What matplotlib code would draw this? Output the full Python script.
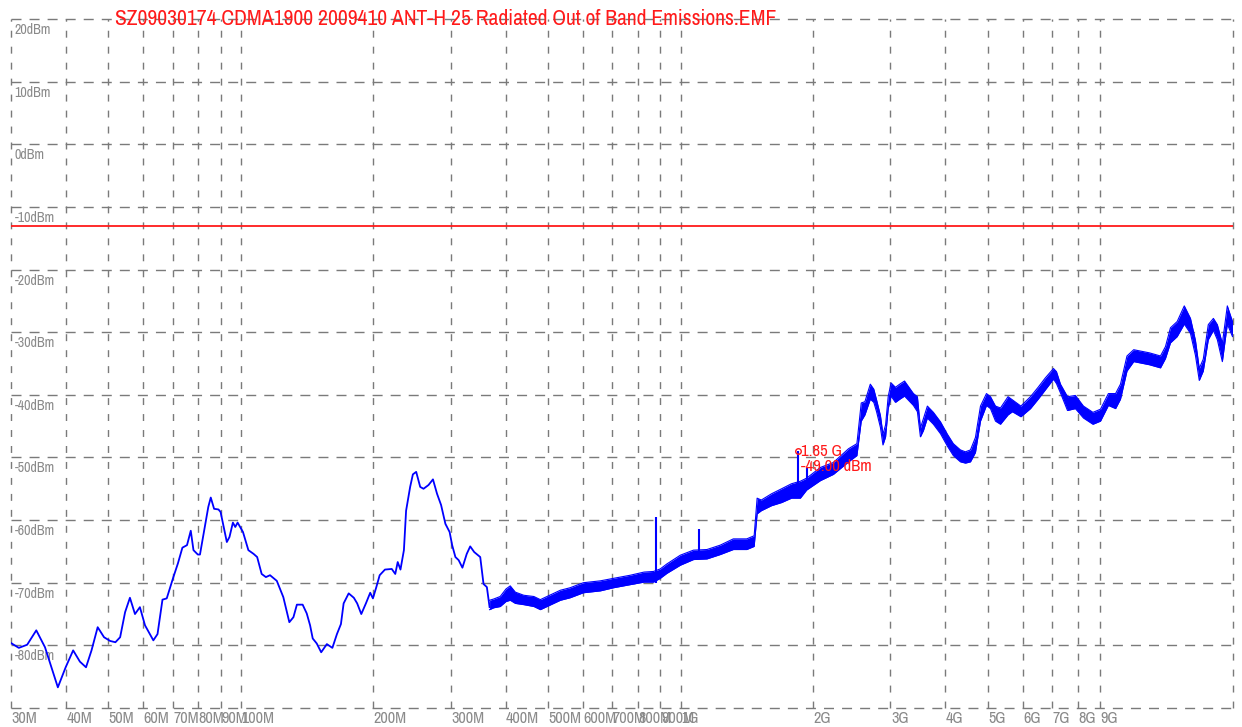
import os
import matplotlib
matplotlib.use("Agg")
import matplotlib.pyplot as plt
from matplotlib import font_manager
from matplotlib.font_manager import FontProperties
from matplotlib.transforms import offset_copy, blended_transform_factory

# ---------------------------------------------------------------- data
title = "SZ09030174 CDMA1900 2009410 ANT-H 25 Radiated Out of Band Emissions.EMF"

# low band sweep (MHz, dBm) - smooth part of the trace
freq_lo = [30.0, 31.3, 32.7, 34.3, 35.9, 38.4, 40.0, 41.6, 43.1, 44.5, 45.8, 47.3,
           48.9, 50.5, 51.9, 53.2, 54.6, 56.0, 57.5, 59.0, 60.6, 63.3, 64.7, 66.4,
           67.9, 70.3, 72.0, 73.7, 75.5, 77.0, 78.1, 79.9, 80.8, 84.4, 85.5, 87.0,
           89.0, 90.0, 93.0, 94.3, 96.0, 97.2, 98.4, 101.2, 104.1, 107.0, 109.0,
           111.6, 114.1, 116.6, 120.8, 125.0, 129.0, 131.8, 134.2, 138.3, 141.3,
           143.8, 145.8, 148.9, 152.4, 157.0, 161.6, 165.5, 169.0, 171.4, 176.0,
           180.8, 184.0, 188.0, 192.6, 197.0, 199.8, 203.4, 207.0, 212.8, 220.5,
           224.6, 227.5, 230.8, 235.0, 237.7, 242.8, 246.3, 250.6, 255.9, 260.4,
           267.3, 273.6, 279.5, 285.5, 292.0, 298.5, 302.5, 307.7, 313.0, 319.2,
           326.5, 332.5, 339.5, 350.4, 356.5, 362.8, 368.0]
level_lo = [-79.6, -80.4, -79.9, -77.6, -80.3, -86.7, -83.5, -80.8, -82.6, -83.5, -80.8, -77.1,
            -78.7, -79.3, -79.5, -78.7, -74.7, -72.4, -75.0, -73.9, -76.8, -79.2, -78.2, -72.7,
            -72.5, -69.1, -66.9, -64.4, -64.0, -61.7, -64.8, -65.5, -65.5, -57.9, -56.4, -58.2,
            -58.3, -58.7, -63.5, -62.7, -60.4, -61.1, -60.4, -61.9, -64.8, -65.4, -65.9,
            -68.6, -69.1, -68.8, -69.7, -72.3, -76.3, -75.5, -73.5, -73.5, -74.9,
            -76.8, -78.9, -79.7, -81.1, -79.8, -80.4, -78.2, -76.6, -73.3, -71.7,
            -72.4, -73.3, -75.0, -73.3, -71.6, -72.5, -70.7, -68.8, -67.9, -67.8,
            -68.6, -66.7, -67.9, -64.8, -58.5, -54.7, -52.7, -52.3, -54.7, -55.0,
            -54.4, -53.5, -55.8, -57.6, -60.6, -61.9, -64.0, -65.9, -66.4, -67.6,
            -65.4, -64.2, -65.1, -65.9, -70.2, -70.7, -73.9]

# high band sweep (MHz) with the min / max of the noise floor (dBm)
freq_hi = [368, 376, 389, 401, 410, 421, 440, 464, 480, 497, 533, 561, 601, 657, 704,
           769, 826, 868, 899, 931, 999, 1070, 1148, 1231, 1318, 1414, 1470, 1493,
           1526, 1610, 1697, 1787, 1872, 1935, 2079, 2226, 2410, 2517, 2575, 2625,
           2700, 2750, 2790, 2847, 2885, 2925, 2965, 3010, 3080, 3150, 3230, 3384,
           3455, 3510, 3566, 3640, 3757, 3898, 4043, 4170, 4328, 4442, 4561, 4682,
           4731, 4807, 4960, 5065, 5200, 5337, 5553, 5680, 5939, 6245, 6500, 6750,
           7044, 7155, 7307, 7580, 7900, 8240, 8660, 9009, 9390, 9750, 10003, 10350,
           10720, 11640, 12333, 12660, 12996, 13460, 13970, 14430, 14810, 15110,
           15430, 15840, 16270, 16610, 17050, 17500, 17980]
floor_min = [-74.3, -74.0, -73.8, -73.0, -72.8, -73.3, -73.5, -73.8, -74.3, -73.8, -72.8,
             -72.4, -71.6, -71.3, -70.8, -70.3, -69.9, -69.9, -69.3, -68.5, -67.2, -66.3,
             -66.2, -65.5, -64.7, -64.7, -64.2, -59.0, -58.5, -57.7, -57.2, -56.5, -56.5,
             -55.2, -53.7, -52.7, -50.7, -49.7, -44.2, -43.2, -40.7, -41.2, -42.7, -45.2,
             -48.0, -46.7, -42.2, -40.2, -41.2, -40.7, -40.2, -41.7, -42.7, -46.7, -45.7,
             -43.7, -44.7, -46.2, -48.2, -49.7, -50.7, -50.9, -50.7, -49.2, -47.2, -44.2,
             -41.7, -42.2, -44.2, -44.7, -43.2, -42.7, -43.5, -42.2, -40.7, -39.2, -37.5,
             -38.2, -39.7, -42.5, -42.2, -43.7, -44.7, -44.2, -41.7, -42.2, -40.7, -36.2,
             -34.7, -35.2, -35.7, -34.2, -31.7, -30.7, -28.7, -30.2, -33.7, -37.7, -36.2,
             -31.2, -29.7, -31.2, -34.7, -28.7, -30.7]
floor_max = [-72.8, -72.6, -72.2, -71.0, -70.5, -71.5, -72.0, -72.2, -72.7, -72.2, -71.2,
             -70.8, -70.0, -69.7, -69.3, -68.8, -68.3, -68.2, -67.8, -67.0, -65.6, -64.8,
             -64.7, -64.0, -63.0, -63.0, -62.5, -56.5, -56.8, -55.8, -55.0, -54.2, -53.8,
             -53.3, -51.6, -50.8, -48.6, -47.8, -41.3, -41.1, -38.3, -39.1, -40.8, -43.3,
             -46.3, -44.8, -40.3, -38.1, -38.8, -38.3, -37.8, -39.8, -40.3, -45.3, -43.8,
             -41.8, -42.8, -44.3, -46.3, -47.8, -48.8, -49.1, -48.8, -46.8, -44.8, -41.8,
             -39.8, -40.3, -41.8, -42.1, -40.3, -40.8, -41.8, -40.3, -38.8, -37.3, -35.8,
             -36.3, -38.3, -40.3, -40.1, -41.8, -42.8, -42.3, -39.8, -39.8, -38.3, -33.8,
             -32.8, -33.3, -33.8, -32.3, -29.3, -28.3, -25.8, -27.8, -31.3, -35.8, -34.3,
             -28.8, -27.8, -28.8, -31.8, -25.8, -28.3]

# narrow spurious lines (MHz, floor dBm, peak dBm)
spur_freq = [880, 1104, 1850, 1940]
spur_base = [-70.0, -65.0, -55.0, -55.0]
spur_peak = [-59.5, -61.4, -49.0, -51.7]

# marker
marker_freq = 1850
marker_level = -49.0

# limit line
limit_level = -13.0

# axis grid
x_grid = [30, 40, 50, 60, 70, 80, 90, 100, 200, 300, 400, 500, 600, 700, 800, 900,
          1000, 2000, 3000, 4000, 5000, 6000, 7000, 8000, 9000, 18000]
x_labels = ["30M", "40M", "50M", "60M", "70M", "80M", "90M", "100M", "200M", "300M",
            "400M", "500M", "600M", "700M", "800M", "900M", "1G", "2G", "3G", "4G",
            "5G", "6G", "7G", "8G", "9G", ""]
y_grid = [20, 10, 0, -10, -20, -30, -40, -50, -60, -70, -80, -90]
y_labels = ["20dBm", "10dBm", "0dBm", "-10dBm", "-20dBm", "-30dBm", "-40dBm",
            "-50dBm", "-60dBm", "-70dBm", "-80dBm", ""]


# ---------------------------------------------------------------- fonts
def narrow_font():
    """Return a narrow / condensed regular sans face if one is installed."""
    bad = ("bold", "italic", "oblique", "light", "thin", "black", "medium",
           "semi", "mono", "serif", "extra")
    found = []
    for f in font_manager.fontManager.ttflist:
        key = (f.name + " " + os.path.basename(f.fname)).lower()
        if any(b in key for b in bad):
            continue
        if "narrow" in key:
            found.append((0, f.fname))
        elif "condensed" in key or str(f.stretch) in ("condensed", "semi-condensed"):
            found.append((1, f.fname))
    if found:
        found.sort()
        return FontProperties(fname=found[0][1])
    return FontProperties(family=["Liberation Sans", "DejaVu Sans"])


FP = narrow_font()
plt.rcParams["lines.scale_dashes"] = False

GRID = "#7a7a7a"
LABEL = "#8a8a8a"
TRACE = "#0000ff"
RED = "#ff1a1a"

fig = plt.figure(figsize=(12.42, 7.27), dpi=100)
ax = fig.add_axes([10.7 / 1242, 1 - 708 / 727, 1222 / 1242, 689 / 727])
ax.set_xscale("log")
ax.set_xlim(30, 18000)
ax.set_ylim(-90, 20)
for s in ax.spines.values():
    s.set_visible(False)
ax.set_xticks([])
ax.set_yticks([])
ax.minorticks_off()
ax.tick_params(which="both", length=0, labelbottom=False, labelleft=False)

# dashed grid, edges included
for xv in x_grid:
    ax.axvline(xv, color=GRID, lw=1.0, dashes=(5.0, 6.5), zorder=1, clip_on=False)
for yv in y_grid:
    ax.axhline(yv, color=GRID, lw=1.0, dashes=(7.2, 5.8), zorder=1, clip_on=False)

# grid labels
xlab, ylab = [], []
xt = blended_transform_factory(ax.transData, ax.transAxes)
for xv, lab in zip(x_grid, x_labels):
    if lab:
        xlab.append(ax.text(xv, 0, lab,
                            transform=offset_copy(xt, fig=fig, x=0.5, y=-3, units="dots"),
                            ha="left", va="top", fontproperties=FP, fontsize=10,
                            color=LABEL, clip_on=False))
yt = blended_transform_factory(ax.transAxes, ax.transData)
for yv, lab in zip(y_grid, y_labels):
    if lab:
        ylab.append(ax.text(0, yv, lab,
                            transform=offset_copy(yt, fig=fig, x=4, y=-4, units="dots"),
                            ha="left", va="top", fontproperties=FP, fontsize=10,
                            color=LABEL))

# limit line
ax.axhline(limit_level, color=RED, lw=1.3, zorder=3)

# measured trace
ax.plot(freq_lo, level_lo, color=TRACE, lw=1.3, zorder=4)
ax.fill_between(freq_hi, floor_min, floor_max, color=TRACE, lw=0, zorder=4)
ax.plot(freq_hi, floor_min, color=TRACE, lw=0.8, zorder=4)
ax.plot(freq_hi, floor_max, color=TRACE, lw=0.8, zorder=4)
ax.vlines(spur_freq, spur_base, spur_peak, color=TRACE, lw=1.5, zorder=4)

# marker
ax.plot([marker_freq], [marker_level], marker="o", ms=4, mfc="none", mec=RED,
        mew=1.0, zorder=6)
mt = offset_copy(ax.transData, fig=fig, x=3, y=0, units="dots")
m1 = ax.text(marker_freq, marker_level, f"{marker_freq / 1000:.2f} G", transform=mt,
             ha="left", va="center", fontproperties=FP, fontsize=12, color=RED, zorder=7)
mt2 = offset_copy(ax.transData, fig=fig, x=3, y=-15, units="dots")
m2 = ax.text(marker_freq, marker_level, f"{marker_level:.2f} dBm", transform=mt2,
             ha="left", va="center", fontproperties=FP, fontsize=12, color=RED, zorder=7)

# title
ttl = fig.text(446 / 1242, 1 - 19 / 727, title, ha="center", va="center",
               fontproperties=FP, fontsize=17.5, color=RED)

# size the text so its width matches the layout whichever face was found
fig.canvas.draw()
r = fig.canvas.get_renderer()


def fit(texts, ref, target_px):
    w = ref.get_window_extent(r).width
    k = target_px / w
    for t in texts:
        t.set_fontsize(t.get_fontsize() * k)


fit([ttl], ttl, 665)
fit(ylab, ylab[-1], 40)          # "-80dBm"
fit(xlab, xlab[7], 33)           # "100M"
fit([m1, m2], m1, 41)            # "1.85 G"

fig.savefig("out.png", dpi=100)
